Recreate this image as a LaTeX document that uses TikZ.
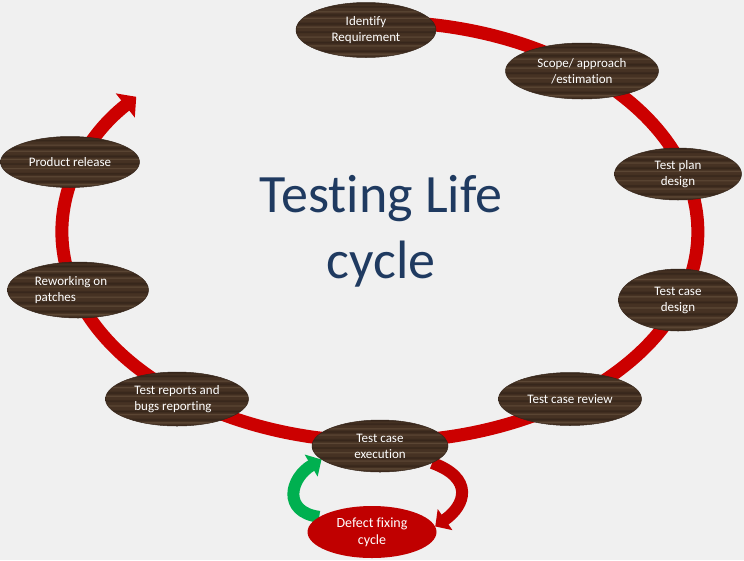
\documentclass[tikz,border=0pt]{standalone}
\usepackage{fontspec}
\setmainfont[Ligatures=NoCommon]{Carlito}
\usetikzlibrary{shapes.geometric,arrows.meta}
\definecolor{bgc}{HTML}{F0F0F0}
\definecolor{cyc}{HTML}{CC0000}
\definecolor{dred}{HTML}{C00000}
\definecolor{grn}{HTML}{00B050}
\definecolor{ttl}{HTML}{1F3A60}
\definecolor{wd}{HTML}{35251A}
\definecolor{wb}{HTML}{463223}
\definecolor{wl}{HTML}{5E4936}
\pgfdeclareverticalshading{wood}{100bp}{color(0bp)=(wd); color(25bp)=(wd);
 color(27bp)=(wb); color(28.5bp)=(wl); color(29.5bp)=(wb); color(31bp)=(wd);
 color(33bp)=(wb); color(35bp)=(wb); color(36bp)=(wl); color(37bp)=(wb);
 color(39bp)=(wd); color(40.5bp)=(wb); color(43bp)=(wb); color(44bp)=(wl); color(45bp)=(wb);
 color(47bp)=(wb); color(48.5bp)=(wd); color(50bp)=(wb);
 color(52bp)=(wb); color(53bp)=(wl); color(54bp)=(wb); color(56bp)=(wd);
 color(58bp)=(wb); color(60bp)=(wb); color(61bp)=(wl); color(62bp)=(wb);
 color(64bp)=(wd); color(66bp)=(wb); color(67bp)=(wl); color(68bp)=(wb);
 color(70bp)=(wb); color(71.5bp)=(wd); color(73bp)=(wb); color(75bp)=(wd); color(100bp)=(wd)}
\pgfdeclarelayer{back}
\pgfsetlayers{back,main}
\tikzset{
  stage/.style={ellipse, shading=wood, draw=wd, line width=0.5pt, text=white,
    font=\fontsize{13}{16}\selectfont, align=center, inner sep=0pt},
  defectbox/.style={ellipse, fill=dred, text=white,
    font=\fontsize{14}{17}\selectfont, align=center, inner sep=0pt},
  titletext/.style={text=ttl, font=\fontsize{54}{66}\selectfont, anchor=base, inner sep=0pt},
  bigband/.style={cyc, line width=13pt, -{Triangle[length=14pt,width=30pt]}},
  loopgreen/.style={grn, line width=12pt, -{Triangle[length=12pt,width=25pt]}},
  loopred/.style={dred, line width=12pt, -{Triangle[length=12pt,width=25pt]}}
}
\begin{document}
\begin{tikzpicture}[x=1pt,y=-1pt]
\useasboundingbox (0,0) rectangle (744,560);
% stages
\node[stage, minimum width=140pt, minimum height=55pt] (idreq) at (366,30) {Identify\\Requirement};
\node[stage, minimum width=153pt, minimum height=56pt] (scope) at (582,71) {Scope/ approach\\/estimation};
\node[stage, minimum width=127pt, minimum height=52pt] (plan) at (678,174) {Test plan\\design};
\node[stage, minimum width=119pt, minimum height=62pt] (tcdesign) at (678,300) {Test case\\design};
\node[stage, minimum width=143pt, minimum height=53pt] (review) at (570,399) {Test case review};
\node[stage, minimum width=136pt, minimum height=52pt] (exec) at (380,446) {Test case\\execution};
\node[defectbox, minimum width=129pt, minimum height=52pt] (defect) at (372,532) {Defect fixing\\cycle};
\node[stage, align=left, minimum width=143pt, minimum height=54pt] (reports) at (177,399) {Test reports and\\bugs reporting};
\node[stage, align=left, minimum width=141pt, minimum height=56pt] (rework) at (78,290) {Reworking on\rule{14pt}{0pt}\\patches};
\node[stage, minimum width=139pt, minimum height=51pt] (product) at (70,162) {Product release};
% title
\node[titletext] (title1) at (381,212) {Testing Life};
\node[titletext] (title2) at (381,278) {cycle};
\begin{pgfonlayer}{back}
\fill[bgc] (0,0) rectangle (744,560);
\coordinate (cyclestart) at (366,22);
\draw[bigband] (cyclestart) arc[start angle=-92.5, end angle=220, x radius=318, y radius=210];
\draw[loopgreen] (defect.164) .. controls (282,512) and (290,478) .. (exec.193);
\draw[loopred] (exec.-18) .. controls (474,478) and (466,505) .. (defect.5);
\end{pgfonlayer}
\end{tikzpicture}
\end{document}
